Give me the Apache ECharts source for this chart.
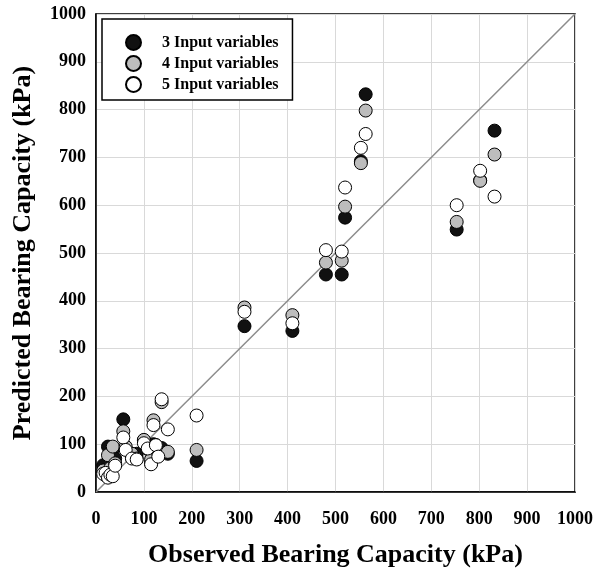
<!DOCTYPE html>
<html>
<head>
<meta charset="utf-8">
<script src="https://cdn.jsdelivr.net/npm/echarts@6/dist/echarts.min.js"></script>
<style>
  html, body { margin: 0; padding: 0; background: #fff; }
  #chart { width: 597px; height: 572px; }
</style>
</head>
<body>
<div id="chart"></div>
<script>
// Observed bearing capacity (kPa) for each test case
const observed = [15, 20, 25, 30, 35, 40, 57, 62, 75, 85, 100, 108, 115, 120, 125, 130, 137, 150,
                  210, 310, 410, 480, 513, 520, 553, 563, 753, 802, 832];
// Predicted bearing capacity (kPa) by models with 3, 4 and 5 input variables
const pred3 = [56, 40, 95, 35, 88, 70, 152, 90, 72, 80, 108, 95, 60, 100, 95, 88, 92, 80,
               65, 347, 337, 455, 455, 574, 692, 832, 549, 652, 756];
const pred4 = [45, 35, 77, 50, 95, 60, 127, 95, 80, 70, 109, 90, 68, 150, 98, 82, 188, 84,
               88, 386, 370, 480, 484, 597, 688, 798, 565, 651, 706];
const pred5 = [38, 40, 30, 36, 33, 55, 114, 88, 70, 68, 102, 91, 58, 140, 98, 74, 194, 131,
               160, 377, 353, 506, 503, 637, 720, 749, 600, 672, 618];
const seriesNames = ['3 Input variables', '4 Input variables', '5 Input variables'];
const axisTicks = [0, 100, 200, 300, 400, 500, 600, 700, 800, 900, 1000];

const pairs = ys => observed.map((x, i) => [x, ys[i]]);
const serif = '"Liberation Serif", "Times New Roman", serif';
const axisMin = axisTicks[0];
const axisMax = axisTicks[axisTicks.length - 1];

const fills = ['#111111', '#bdbdbd', '#ffffff'];
const preds = [pred3, pred4, pred5];

const scatterSeries = preds.map((ys, k) => ({
  name: seriesNames[k],
  type: 'scatter',
  data: pairs(ys),
  symbol: 'circle',
  symbolSize: 13,
  z: 3 + k,
  itemStyle: { color: fills[k], borderColor: '#000', borderWidth: 1, opacity: 1 },
  emphasis: { disabled: true }
}));

const tickLabel = {
  fontFamily: serif, fontWeight: 'bold', fontSize: 18, color: '#000',
  formatter: v => String(v)
};
const titleStyle = { fontFamily: serif, fontWeight: 'bold', fontSize: 26, color: '#000' };

const chart = echarts.init(document.getElementById('chart'), null, { renderer: 'canvas' });
chart.setOption({
  animation: false,
  backgroundColor: '#fff',
  grid: {
    left: 96, right: 22, top: 14, bottom: 80,
    containLabel: false, outerBoundsMode: 'none',
    show: true, borderColor: '#000', borderWidth: 1.5, backgroundColor: 'transparent'
  },
  legend: {
    data: seriesNames,
    orient: 'vertical',
    left: 102, top: 19,
    padding: [15, 14, 7, 23],
    itemWidth: 15, itemHeight: 15, itemGap: 4,
    borderColor: '#000', borderWidth: 1.5, backgroundColor: '#fff',
    icon: 'circle',
    textStyle: { fontFamily: serif, fontWeight: 'bold', fontSize: 16, color: '#000',
                 lineHeight: 16, padding: [0, 0, 0, 16] }
  },
  xAxis: {
    type: 'value', min: axisMin, max: axisMax, interval: 100,
    name: 'Observed Bearing Capacity (kPa)', nameLocation: 'middle', nameGap: 50,
    nameTextStyle: titleStyle,
    axisLine: { show: true, lineStyle: { color: '#000', width: 1.5 } },
    axisTick: { show: false },
    axisLabel: Object.assign({ margin: 18 }, tickLabel),
    splitLine: { show: true, lineStyle: { color: '#d9d9d9', width: 1 } }
  },
  yAxis: {
    type: 'value', min: axisMin, max: axisMax, interval: 100,
    name: 'Predicted Bearing Capacity (kPa)', nameLocation: 'middle', nameGap: 60,
    nameTextStyle: titleStyle,
    axisLine: { show: true, lineStyle: { color: '#000', width: 1.5 } },
    axisTick: { show: false },
    axisLabel: Object.assign({ margin: 10 }, tickLabel),
    splitLine: { show: true, lineStyle: { color: '#d9d9d9', width: 1 } }
  },
  series: [
    {
      // 1:1 reference line
      type: 'line',
      data: [[axisMin, axisMin], [axisMax, axisMax]],
      symbol: 'none',
      z: 2,
      lineStyle: { color: '#8c8c8c', width: 1.5 },
      silent: true
    },
    ...scatterSeries
  ]
});
</script>
</body>
</html>
